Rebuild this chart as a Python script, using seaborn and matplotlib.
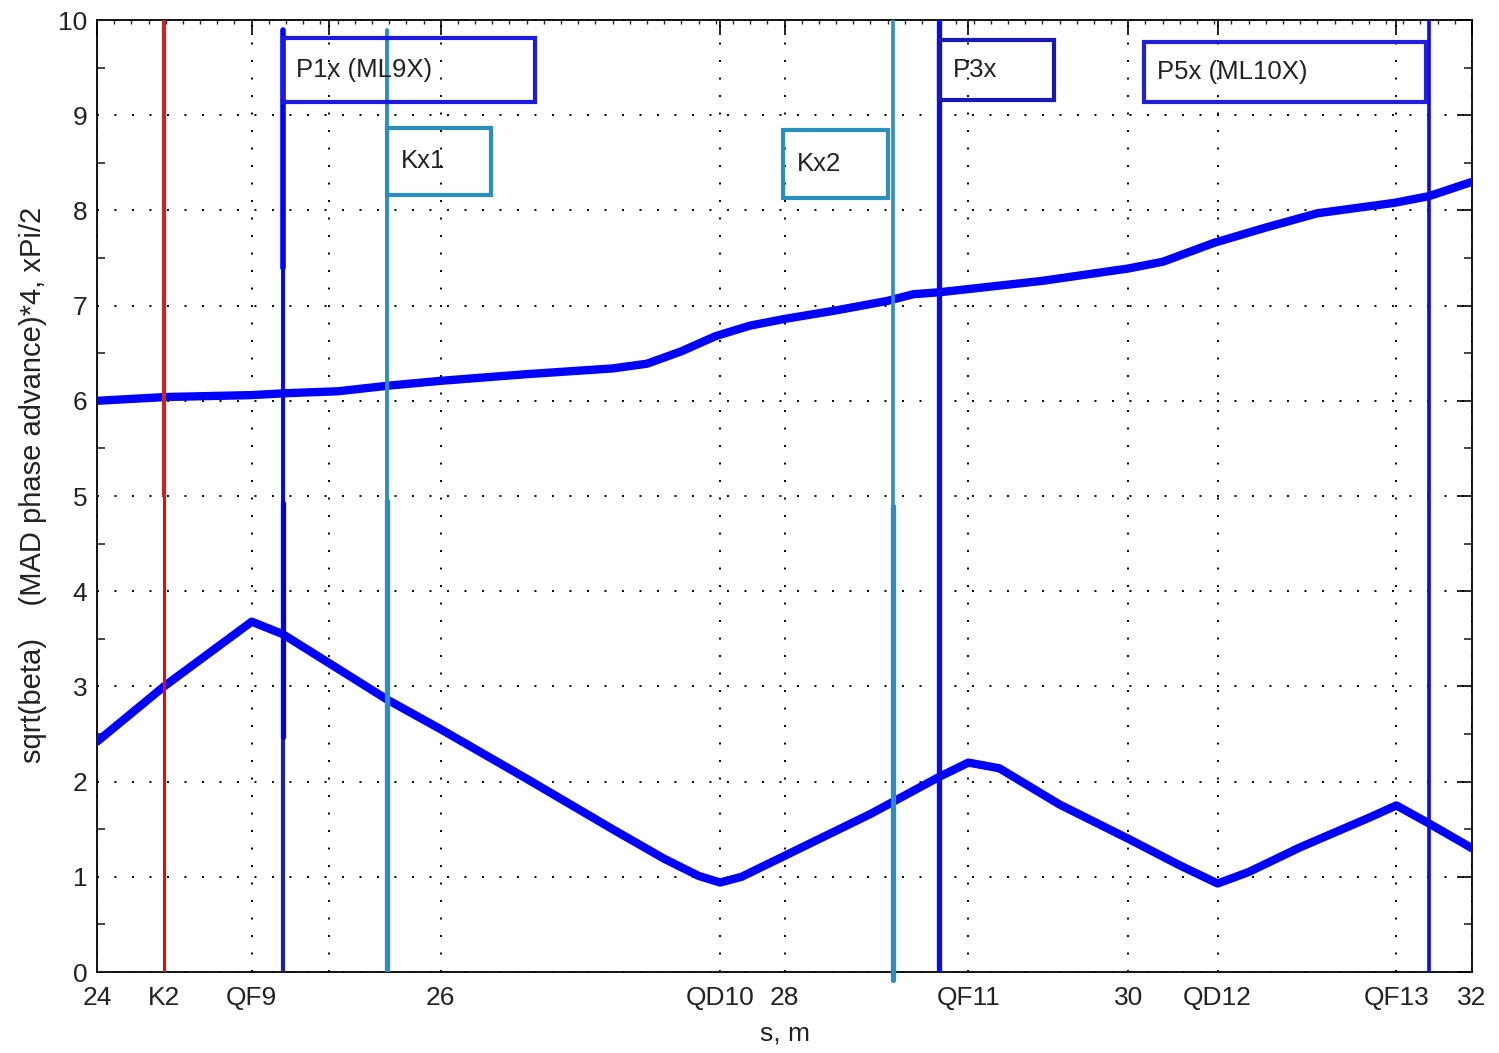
import numpy as np
import pandas as pd
import matplotlib
matplotlib.use("Agg")
import matplotlib.pyplot as plt
import seaborn as sns
from matplotlib.patches import Rectangle
from matplotlib.ticker import MultipleLocator

#_____1. DATA_____
# phase advance curve (x4, in units of Pi/2)
s_phase = [24.0, 24.4, 24.9, 25.1, 25.4, 25.7, 26.0, 26.5, 27.0, 27.2, 27.4, 27.6,
           27.8, 28.0, 28.3, 28.6, 28.75, 28.9, 29.1, 29.5, 30.0, 30.2, 30.5, 30.8,
           31.1, 31.55, 31.75, 32.0]
phase = [6.00, 6.04, 6.06, 6.08, 6.10, 6.16, 6.21, 6.28, 6.34, 6.39, 6.52, 6.68,
         6.79, 6.86, 6.95, 7.05, 7.12, 7.14, 7.18, 7.26, 7.39, 7.46, 7.66, 7.82,
         7.97, 8.08, 8.15, 8.30]

# sqrt(beta) curve
s_beta = [24.0, 24.39, 24.9, 25.08, 25.69, 26.0, 26.5, 27.0, 27.3, 27.5, 27.625,
          27.75, 28.0, 28.5, 28.9, 29.07, 29.25, 29.6, 30.0, 30.3, 30.52, 30.7,
          31.0, 31.4, 31.56, 31.75, 32.0]
sqrt_beta = [2.42, 3.00, 3.68, 3.55, 2.86, 2.55, 2.03, 1.50, 1.19, 1.01, 0.94,
             1.00, 1.22, 1.66, 2.05, 2.20, 2.14, 1.76, 1.40, 1.12, 0.93, 1.05,
             1.31, 1.62, 1.75, 1.56, 1.30]

# element positions on the axis
tick_pos = [24, 24.39, 24.9, 25.35, 26, 27.625, 28, 29.07, 30, 30.52, 31.56, 32]
tick_lbl = ['24', 'K2', 'QF9', '', '26', 'QD10', '28', 'QF11', '30', 'QD12', 'QF13', '32']

# kicker / pickup markers
marker_names = ['K2', 'P1x', 'Kx1', 'Kx2', 'P3x', 'P5x']
marker_pos = [24.39, 25.08, 25.69, 28.63, 28.90, 31.75]

box_labels = ['P1x (ML9X)', 'Kx1', 'Kx2', 'P3x', 'P5x (ML10X)']

#_____2. STYLE_____
sns.set_style("white")
plt.rcParams['font.family'] = ['Liberation Sans', 'DejaVu Sans']

fig = plt.figure(figsize=(14.99, 10.53), dpi=100)
ax = fig.add_axes([0.0647, 0.0769, 0.9173, 0.9041])

#_____3. CURVES_____
df_phase = pd.DataFrame({'s': s_phase, 'v': phase})
df_beta = pd.DataFrame({'s': s_beta, 'v': sqrt_beta})
sns.lineplot(data=df_phase, x='s', y='v', ax=ax, color='#0000ff', linewidth=6,
             sort=False, estimator=None, zorder=3)
sns.lineplot(data=df_beta, x='s', y='v', ax=ax, color='#0000ff', linewidth=6,
             sort=False, estimator=None, zorder=3)

#_____4. MARKER LINES_____
pos = dict(zip(marker_names, marker_pos))
blue = '#0a0af0'
cyan = '#2a8fc0'
# K2
ax.plot([pos['K2']] * 2, [0, 10], color='#ff0000', lw=2.2, zorder=4)
ax.plot([pos['K2']] * 2, [5, 10], color='#c02828', lw=3, zorder=4)
# P1x
ax.plot([pos['P1x']] * 2, [0, 2.47], color='#2020a0', lw=3, zorder=4)
ax.plot([pos['P1x']] * 2, [2.47, 4.93], color='#0000e0', lw=3.8, zorder=4)
ax.plot([pos['P1x']] * 2, [4.93, 9.9], color='#0000ff', lw=2.8, zorder=4)
ax.plot([pos['P1x']] * 2, [7.4, 9.9], color='#0000ff', lw=4, zorder=4)
# Kx1
ax.plot([pos['Kx1']] * 2, [0, 4.95], color=cyan, lw=3.8, zorder=4)
ax.plot([pos['Kx1']] * 2, [4.95, 9.9], color=cyan, lw=2.8, zorder=4)
# Kx2
ax.plot([pos['Kx2']] * 2, [-0.08, 4.9], color=cyan, lw=3.8, zorder=4, clip_on=False)
ax.plot([pos['Kx2']] * 2, [4.9, 10], color=cyan, lw=2.6, zorder=4)
# P3x, P5x
ax.plot([pos['P3x']] * 2, [0, 10], color=blue, lw=3.8, zorder=4)
ax.plot([pos['P5x']] * 2, [0, 10], color=blue, lw=2.6, zorder=4)

#_____5. LABEL BOXES_____
boxes = [(25.08, 9.14, 1.47, 0.67, '#1a1ae0'),
         (25.69, 8.16, 0.60, 0.71, cyan),
         (27.99, 8.13, 0.61, 0.71, cyan),
         (28.90, 9.16, 0.67, 0.63, '#1818b8'),
         (30.09, 9.14, 1.64, 0.63, '#2020d8')]
for (x0, y0, w, h, col), txt in zip(boxes, box_labels):
    ax.add_patch(Rectangle((x0, y0), w, h, fill=False, edgecolor=col, lw=3, zorder=5))
    ax.text(x0 + 0.08, y0 + h / 2, txt, fontsize=18.5, color='#222222',
            ha='left', va='center', zorder=6)

#_____6. AXES_____
ax.set_xlim(24, 32)
ax.set_ylim(0, 10)
ax.set_xticks(tick_pos)
ax.set_xticklabels(tick_lbl)
ax.set_yticks(range(0, 11))
ax.yaxis.set_minor_locator(MultipleLocator(0.5))
ax.xaxis.set_minor_locator(MultipleLocator(0.1))
ax.grid(True, which='major', color='black', linestyle=(0, (1, 8)), linewidth=1.4)
ax.tick_params(axis='both', which='major', direction='in', labelsize=19,
               length=11, width=1.2, top=True, right=True, colors='black',
               labelcolor='#222222')
ax.tick_params(axis='x', which='major', pad=10)
ax.tick_params(axis='y', which='major', pad=7)
ax.tick_params(axis='y', which='minor', direction='in', length=6, width=1.2,
               left=True, right=True)
ax.tick_params(axis='x', which='minor', direction='in', length=3, width=1,
               top=True, bottom=False)
for sp in ax.spines.values():
    sp.set_color('black')
    sp.set_linewidth(1.3)

ax.set_xlabel('s, m', fontsize=19, color='#222222')
ax.set_ylabel('sqrt(beta)    (MAD phase advance)*4, xPi/2', fontsize=21,
              color='#222222')
ax.xaxis.set_label_coords(0.5, -0.052)
ax.yaxis.set_label_coords(-0.036, 0.512)

fig.savefig('out.png', dpi=100)
